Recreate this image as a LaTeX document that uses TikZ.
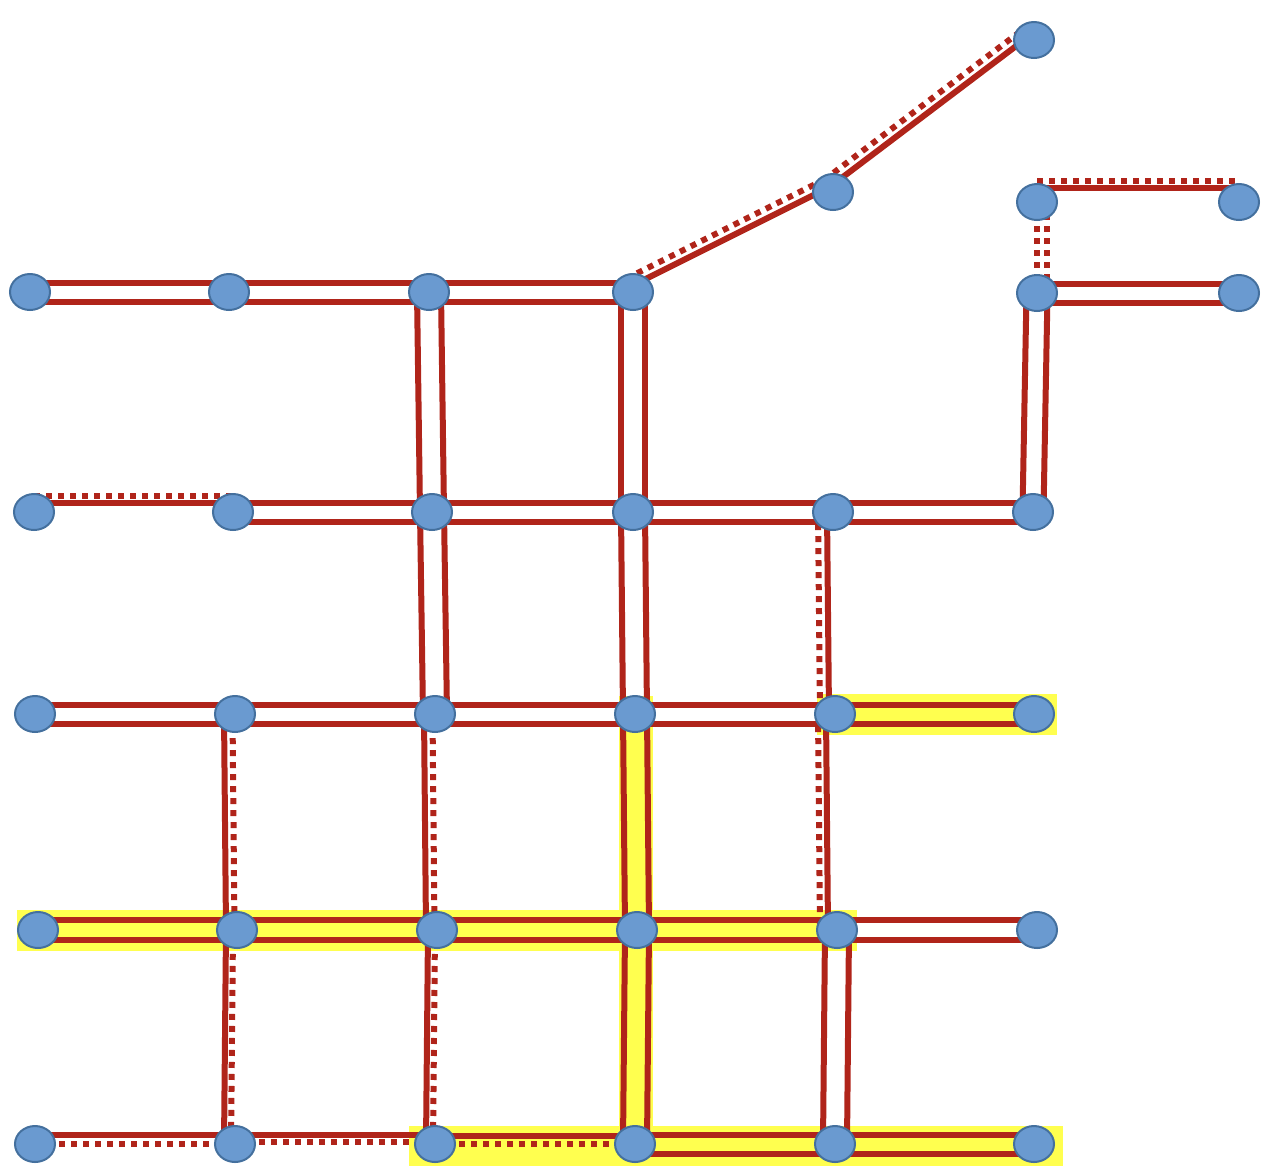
\documentclass[tikz,border=0pt]{standalone}
\usepackage{tikz}
\usetikzlibrary{
  shapes.geometric,
  calc,
  backgrounds
}
\usepackage{xcolor}
\definecolor{railred}{HTML}{B0241A}
\definecolor{stopblue}{HTML}{6A9AD0}
\definecolor{stopedge}{HTML}{44709E}
\definecolor{glowyellow}{HTML}{FFFF4F}
\pgfdeclarelayer{glow}
\pgfsetlayers{glow,background,main}
\tikzset{
  stop/.style={
    ellipse, draw=stopedge, fill=stopblue, line width=1pt,
    minimum width=20pt, minimum height=18pt, inner sep=0pt
  },
  track/.style={draw=railred, line width=3pt},
  dottrack/.style={track, dash pattern=on 3pt off 3pt},
  glow/.style={fill=glowyellow},
}
% one line beside the centre line of a->b (offset: + is left of a->b)
\newcommand{\trackline}[4][track]{\draw[#1] ($(#2)!#4!90:(#3)$) -- ($(#3)!#4!-90:(#2)$);}
\newcommand{\twintrack}[3]{\trackline{#1}{#2}{#3}\trackline{#1}{#2}{-#3}}

\begin{document}
\begin{tikzpicture}[x=0.5pt, y=-0.5pt]
\useasboundingbox (0,0) rectangle (1274,1174);

% highlighted stretches
\begin{pgfonlayer}{glow}
\fill[glow] (817,694) rectangle (1057,735);
\fill[glow] (17,910) rectangle (857,951);
\fill[glow] (619,696) rectangle (653,1150);
\fill[glow] (409,1126) rectangle (1063,1166);
\end{pgfonlayer}

% stops
\node[stop] (q5) at (1034,40) {};
\node[stop] (p4) at (833,192) {};
\node[stop] (t5) at (1037,202) {};
\node[stop] (t6) at (1239,202) {};

\node[stop] (a0) at (30,292) {};
\node[stop] (a1) at (229,292) {};
\node[stop] (a2) at (429,292) {};
\node[stop] (a3) at (633,292) {};
\node[stop] (a5) at (1037,293) {};
\node[stop] (a6) at (1239,293) {};

\node[stop] (b0) at (34,512) {};
\node[stop] (b1) at (233,512) {};
\node[stop] (b2) at (432,512) {};
\node[stop] (b3) at (633,512) {};
\node[stop] (b4) at (833,512) {};
\node[stop] (b5) at (1033,512) {};

\node[stop] (c0) at (35,714) {};
\node[stop] (c1) at (235,714) {};
\node[stop] (c2) at (435,714) {};
\node[stop] (c3) at (635,714) {};
\node[stop] (c4) at (835,714) {};
\node[stop] (c5) at (1034,714) {};

\node[stop] (d0) at (38,930) {};
\node[stop] (d1) at (237,930) {};
\node[stop] (d2) at (437,930) {};
\node[stop] (d3) at (637,930) {};
\node[stop] (d4) at (837,930) {};
\node[stop] (d5) at (1037,930) {};

\node[stop] (e0) at (35,1144) {};
\node[stop] (e1) at (235,1144) {};
\node[stop] (e2) at (435,1144) {};
\node[stop] (e3) at (635,1144) {};
\node[stop] (e4) at (835,1144) {};
\node[stop] (e5) at (1034,1144) {};

\begin{pgfonlayer}{background}
% horizontal tracks
\twintrack{a0}{a1}{4.75pt}
\twintrack{a1}{a2}{4.75pt}
\twintrack{a2}{a3}{4.75pt}
\twintrack{a5}{a6}{4.75pt}
\trackline{t5}{t6}{7.25pt}
\trackline[dottrack]{t5}{t6}{10.75pt}
\trackline{b0}{b1}{4.5pt}
\trackline[dottrack]{b0}{b1}{8pt}
\twintrack{b1}{b2}{4.75pt}
\twintrack{b2}{b3}{4.75pt}
\twintrack{b3}{b4}{4.75pt}
\twintrack{b4}{b5}{4.75pt}
\twintrack{c0}{c1}{4.75pt}
\twintrack{c1}{c2}{4.75pt}
\twintrack{c2}{c3}{4.75pt}
\twintrack{c3}{c4}{4.75pt}
\twintrack{c4}{c5}{4.75pt}
\twintrack{d0}{d1}{5pt}
\twintrack{d1}{d2}{5pt}
\twintrack{d2}{d3}{5pt}
\twintrack{d3}{d4}{5pt}
\twintrack{d4}{d5}{5pt}
\trackline{e0}{e1}{4.75pt}
\trackline[dottrack]{e0}{e1}{0pt}
\trackline{e1}{e2}{4.75pt}
\trackline[dottrack]{e1}{e2}{1pt}
\trackline{e2}{e3}{4pt}
\trackline[dottrack]{e2}{e3}{0pt}
\twintrack{e3}{e4}{4.75pt}
\twintrack{e4}{e5}{4.75pt}

% diagonal tracks
\trackline{a3}{p4}{3pt}
\trackline[dottrack]{a3}{p4}{7.5pt}
\trackline{p4}{q5}{3pt}
\trackline[dottrack]{p4}{q5}{7.5pt}

% vertical tracks
\trackline[dottrack]{t5}{a5}{0pt}
\trackline[dottrack]{t5}{a5}{5pt}
\twintrack{a5}{b5}{5.25pt}
\twintrack{a2}{b2}{6pt}
\twintrack{a3}{b3}{6pt}
\twintrack{b2}{c2}{6pt}
\twintrack{b3}{c3}{6pt}
\trackline{b4}{c4}{-3pt}
\trackline[dottrack]{b4}{c4}{-7.5pt}
\trackline{c1}{d1}{-5.5pt}
\trackline[dottrack]{c1}{d1}{-1.25pt}
\trackline{c2}{d2}{-5.5pt}
\trackline[dottrack]{c2}{d2}{-1.25pt}
\twintrack{c3}{d3}{6pt}
\trackline{c4}{d4}{-4.5pt}
\trackline[dottrack]{c4}{d4}{-8.5pt}
\trackline{d1}{e1}{-5.5pt}
\trackline[dottrack]{d1}{e1}{-2pt}
\trackline{d2}{e2}{-4.5pt}
\trackline[dottrack]{d2}{e2}{-1pt}
\twintrack{d3}{e3}{6pt}
\twintrack{d4}{e4}{6pt}
\end{pgfonlayer}

\end{tikzpicture}
\end{document}
